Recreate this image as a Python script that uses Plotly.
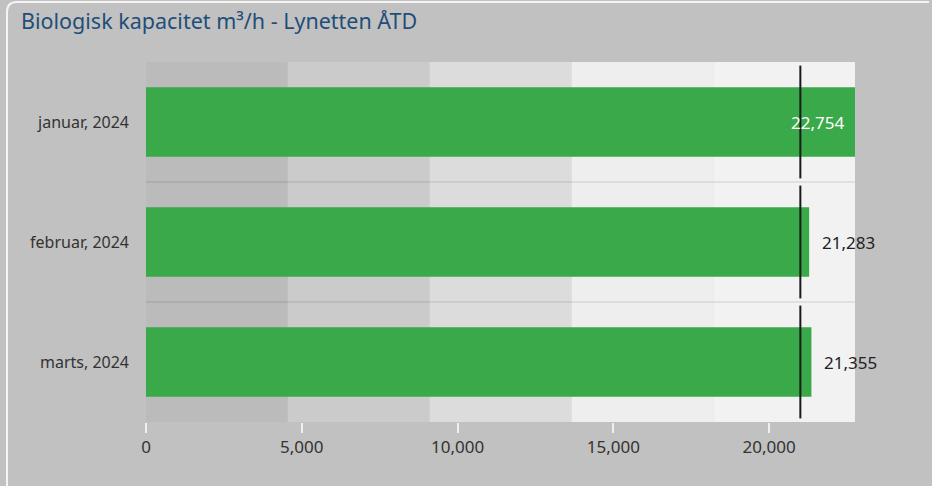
import plotly.graph_objects as go

# ---- data ----
categories = ["januar, 2024", "februar, 2024", "marts, 2024"]
values = [22754, 21283, 21355]
targets = [21000, 21000, 21000]
band_edges = [0, 4551, 9102, 13652, 18203, 22754]
band_colors = ["#bbbbbb", "#cbcbcb", "#dcdcdc", "#eeeeee", "#f2f2f2"]
tick_vals = [0, 5000, 10000, 15000, 20000]
tick_text = ["0", "5,000", "10,000", "15,000", "20,000"]
title_text = "Biologisk kapacitet m³/h - Lynetten ÅTD"

FONT = "Noto Sans, Open Sans, sans-serif"
BG = "#c1c1c1"
GREEN = "#3aa94a"

xmax = band_edges[-1]

fig = go.Figure()
fig.add_trace(go.Bar(
    y=categories, x=values, orientation="h",
    marker=dict(color=GREEN, line=dict(width=0)),
    width=0.58,
    hoverinfo="x+y",
))

shapes = []
n = len(categories)
for i in range(n):
    for j in range(len(band_colors)):
        shapes.append(dict(
            type="rect", xref="x", yref="y", layer="below",
            x0=band_edges[j], x1=band_edges[j + 1],
            y0=i - 0.5, y1=i + 0.5,
            fillcolor=band_colors[j], line=dict(width=0),
        ))
    shapes.append(dict(
        type="line", xref="x", yref="y", layer="above",
        x0=targets[i], x1=targets[i], y0=i - 0.47, y1=i + 0.47,
        line=dict(color="#1a1a1a", width=2),
    ))
# thin separators between rows
for i in range(n - 1):
    shapes.append(dict(
        type="line", xref="x", yref="y", layer="below",
        x0=band_edges[0], x1=band_edges[-1], y0=i + 0.5, y1=i + 0.5,
        line=dict(color="rgba(0,0,0,0.07)", width=2),
    ))

# value labels
annotations = []
for cat, v in zip(categories, values):
    ins = v >= xmax
    annotations.append(dict(
        x=v, y=cat, xref="x", yref="y", text=f"{v:,}", showarrow=False,
        xanchor="right" if ins else "left", xshift=-9 if ins else 11,
        yanchor="middle",
        font=dict(family=FONT, size=17, color="#ffffff" if ins else "#222222"),
    ))

# outer panel border with rounded top-left corner (paper coords)
W, H = 932, 486
l, r, t, b = 146, 77, 62, 64
pw, ph = W - l - r, H - t - b
def px(x):
    return (x - l) / pw
def py(y):
    return (H - b - y) / ph
rx, ry = 10 / pw, 10 / ph
x0, yt, x1, yb = px(7), py(2), px(929), py(486)
border = dict(color="#f4f4f4", width=2)
shapes.append(dict(type="line", xref="paper", yref="paper", layer="below",
                   x0=x0, x1=x0, y0=yb, y1=yt - ry, line=border))
shapes.append(dict(type="line", xref="paper", yref="paper", layer="below",
                   x0=x0 + rx, x1=x1, y0=yt, y1=yt, line=border))
shapes.append(dict(type="path", xref="paper", yref="paper", layer="below",
                   path=f"M {x0},{yt - ry} Q {x0},{yt} {x0 + rx},{yt}",
                   fillcolor="rgba(0,0,0,0)", line=border))

annotations.append(dict(
    text=title_text, xref="paper", yref="paper",
    x=px(19), y=py(21), xanchor="left", yanchor="middle",
    showarrow=False,
    font=dict(family=FONT, size=21.5, color="#1f4e79"),
))

fig.update_layout(
    width=W, height=H,
    margin=dict(l=l, r=r, t=t, b=b, autoexpand=False),
    paper_bgcolor=BG, plot_bgcolor=BG,
    showlegend=False,
    shapes=shapes,
    annotations=annotations,
    font=dict(family=FONT, color="#333333"),
    xaxis=dict(
        range=[0, xmax], showgrid=False, zeroline=False, showline=False,
        tickmode="array", tickvals=tick_vals, ticktext=tick_text,
        ticks="outside", ticklen=10, tickwidth=2, tickcolor="#f0f0f0",
        tickfont=dict(size=17, color="#333333", family=FONT),
        automargin=False, fixedrange=True,
    ),
    yaxis=dict(
        categoryorder="array", categoryarray=categories,
        showgrid=False, zeroline=False, showline=False,
        tickfont=dict(size=16, color="#333333", family=FONT),
        ticks="", ticklabelstandoff=16,
        range=[2.5, -0.5], automargin=False, fixedrange=True,
    ),
)

fig.write_html(
    "out.html",
    config={"displayModeBar": False},
    post_script="document.body.style.margin='0';document.body.style.overflow='hidden';"
                "document.body.style.background='" + BG + "';",
)
